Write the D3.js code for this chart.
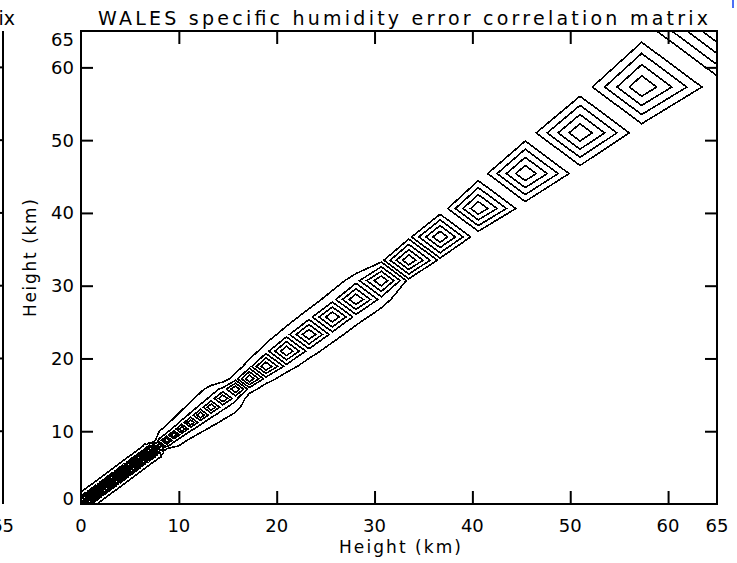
<!DOCTYPE html>
<html>
<head>
<meta charset="utf-8">
<script src="https://cdn.jsdelivr.net/npm/d3@7"></script>
<style>
  body { margin: 0; background: #fff; }
  svg { display: block; }
  text { font-family: "DejaVu Sans", sans-serif; fill: #000; }
</style>
</head>
<body>
<svg id="chart" width="737" height="563"></svg>
<script>
const heights = [0, 0.25, 0.5, 0.75, 1, 1.25, 1.5, 1.75, 2, 2.25,
  2.5, 2.75, 3, 3.25, 3.5, 3.75, 4, 4.25, 4.5, 4.75,
  5, 5.25, 5.5, 5.75, 6, 6.25, 6.5, 6.75, 7, 7.25,
  7.5, 7.75, 8, 8.75, 9.5, 10.3, 11.2, 12.2, 13.3, 14.5,
  15.8, 17.2, 18.9, 21.0, 23.3, 25.7, 28.1, 30.7, 33.5, 36.7,
  40.6, 45.4, 51.0, 57.3, 65.0];

// which lag-correlation profile each level uses
const levelGroup = [0, 0, 0, 0, 0, 0, 0, 0, 0, 0,
  0, 0, 0, 0, 0, 0, 0, 0, 0, 0,
  0, 0, 0, 0, 0, 0, 0, 0, 0, 0,
  0, 0, 0, 1, 1, 1, 1, 1, 1, 1,
  1, 2, 2, 2, 2, 2, 2, 2, 3, 3,
  4, 4, 4, 4, 4];

// correlation against level separation (in levels), one profile per group
const lagCorrTroposphere = [1, 0.5, 0.68, 0.36, 0.48, 0.26, 0.3, 0.12, 0.14, 0.02];
const lagCorrTropopause = [1, 0.45, 0.3, 0.14, 0.05];
const lagCorrLowerStrat = [1, 0.3, 0.09, 0.02];
const lagCorrMidStrat = [1, 0.12, 0.01];
const lagCorrUpper = [1, 0, 0];
const lagProfiles = [lagCorrTroposphere, lagCorrTropopause, lagCorrLowerStrat, lagCorrMidStrat, lagCorrUpper];

const contourLevels = [0.2, 0.4, 0.6, 0.8];
const tickValues = [10, 20, 30, 40, 50, 60];
const labelValues = [0, 10, 20, 30, 40, 50, 60, 65];
const titleText = "WALES specific humidity error correlation matrix";
const axisTitle = "Height (km)";

const svg = d3.select("#chart");
const plotL = 81, plotR = 717, plotT = 31, plotB = 504;

const x = d3.scaleLinear().domain([0, 65]).range([plotL, plotR]);
const y = d3.scaleLinear().domain([0, 65]).range([plotB, plotT]);

// correlation matrix on the level grid (values[row * n + col])
const n = heights.length;
const lagCorr = (g, k) => lagProfiles[g][k] ?? 0;
const matrix = new Array(n * n);
for (let j = 0; j < n; j++) {
  for (let i = 0; i < n; i++) {
    const k = Math.abs(i - j);
    matrix[j * n + i] = Math.min(lagCorr(levelGroup[i], k), lagCorr(levelGroup[j], k));
  }
}

// grid index -> height, piecewise linear
const idx = d3.scaleLinear().domain(d3.range(n)).range(heights);

svg.append("clipPath").attr("id", "plotclip")
  .append("rect").attr("x", plotL).attr("y", plotT)
  .attr("width", plotR - plotL).attr("height", plotB - plotT);

const contours = d3.contours().size([n, n]).thresholds(contourLevels)(matrix);
const rings = contours.flatMap(c => c.coordinates.flat());
const toPx = p => [x(idx(p[0] - 0.5)), y(idx(p[1] - 0.5))];
const line = d3.line().curve(d3.curveLinearClosed);

svg.append("g")
  .attr("clip-path", "url(#plotclip)")
  .selectAll("path")
  .data(rings)
  .join("path")
  .attr("d", r => line(r.map(toPx)))
  .attr("fill", "none")
  .attr("stroke", "#000")
  .attr("stroke-width", 1.6)
  .attr("shape-rendering", "crispEdges");

// frame
svg.append("rect")
  .attr("x", plotL).attr("y", plotT)
  .attr("width", plotR - plotL).attr("height", plotB - plotT)
  .attr("fill", "none").attr("stroke", "#000").attr("stroke-width", 2);

// inward ticks on all four sides
function ticks(axis, tx, ty) {
  const g = svg.append("g").attr("transform", `translate(${tx},${ty})`)
    .call(axis.tickValues(tickValues).tickFormat("").tickSizeOuter(0));
  g.select(".domain").remove();
  g.selectAll(".tick line").attr("stroke", "#000").attr("stroke-width", 2);
}
ticks(d3.axisBottom(x).tickSizeInner(-13), 0, plotB);
ticks(d3.axisTop(x).tickSizeInner(-13), 0, plotT);
ticks(d3.axisLeft(y).tickSizeInner(-12), plotL, 0);
ticks(d3.axisRight(y).tickSizeInner(-12), plotR, 0);

// tick labels
svg.append("g").selectAll("text")
  .data(labelValues)
  .join("text")
  .attr("x", 74)
  .attr("y", d => Math.min(Math.max(y(d), 40), 499))
  .attr("dy", "0.36em")
  .attr("text-anchor", "end")
  .attr("font-size", 18)
  .text(d => d);

svg.append("g").selectAll("text")
  .data(labelValues)
  .join("text")
  .attr("x", d => x(d))
  .attr("y", 526)
  .attr("dy", "0.36em")
  .attr("text-anchor", "middle")
  .attr("font-size", 18)
  .text(d => d);

// titles
svg.append("text")
  .attr("x", 403).attr("y", 25)
  .attr("text-anchor", "middle")
  .attr("font-size", 19)
  .attr("textLength", 610).attr("lengthAdjust", "spacing")
  .text(titleText);

svg.append("text")
  .attr("x", 400).attr("y", 553)
  .attr("text-anchor", "middle")
  .attr("font-size", 17)
  .attr("textLength", 122).attr("lengthAdjust", "spacing")
  .text(axisTitle);

svg.append("text")
  .attr("transform", "translate(36,258) rotate(-90)")
  .attr("text-anchor", "middle")
  .attr("font-size", 17)
  .attr("textLength", 118).attr("lengthAdjust", "spacing")
  .text(axisTitle);

// edge of the neighbouring panel
svg.append("line").attr("x1", 3).attr("x2", 3).attr("y1", plotT).attr("y2", plotB)
  .attr("stroke", "#000").attr("stroke-width", 2);
svg.append("g").selectAll("line").data(tickValues).join("line")
  .attr("x1", 0).attr("x2", 3).attr("y1", d => y(d)).attr("y2", d => y(d))
  .attr("stroke", "#000").attr("stroke-width", 2);
svg.append("text").attr("x", 15).attr("y", 25).attr("text-anchor", "end")
  .attr("font-size", 19).text("rix");
svg.append("text").attr("x", 14).attr("y", 526).attr("dy", "0.36em")
  .attr("text-anchor", "end").attr("font-size", 18).text("65");

svg.append("line").attr("x1", 733).attr("x2", 733).attr("y1", 0).attr("y2", 8)
  .attr("stroke", "#4c6ef5").attr("stroke-width", 2);
</script>
</body>
</html>
